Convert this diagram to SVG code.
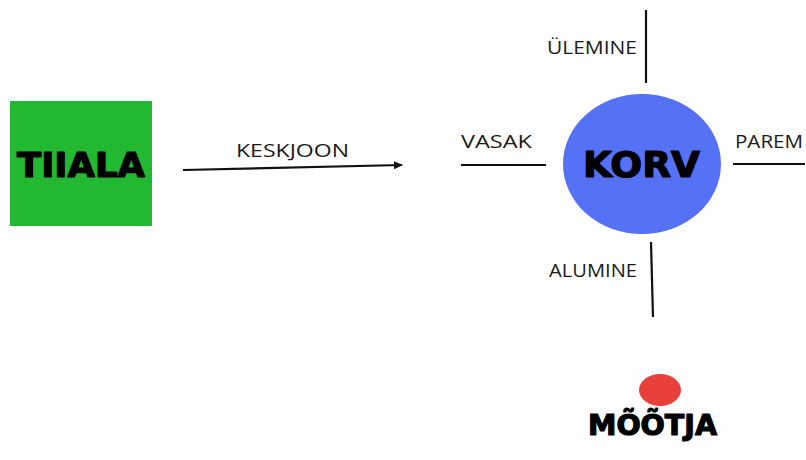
<svg xmlns="http://www.w3.org/2000/svg" width="806" height="460" viewBox="0 0 806 460">
<defs>
<style>
.lbl{font-family:"Open Sans","Liberation Sans",sans-serif;font-size:18px;fill:#1a1a1a}
.big{font-family:"DejaVu Sans","Liberation Sans",sans-serif;font-weight:bold;fill:#000;stroke:#000;stroke-width:1.2;stroke-linejoin:round}
.ln{stroke:#111;stroke-width:2.2;fill:none}
</style>
<marker id="ah" markerWidth="10" markerHeight="10" refX="8" refY="5" orient="auto" markerUnits="userSpaceOnUse">
<path d="M0,1 L9,5 L0,9 Z" fill="#111"/>
</marker>
</defs>
<rect width="806" height="460" fill="#fff"/>
<g id="tiiala">
<rect x="10" y="101" width="142" height="125" fill="#22b830"/>
<text class="big" x="17" y="177" font-size="33" textLength="128" lengthAdjust="spacingAndGlyphs">TIIALA</text>
</g>
<g id="korv">
<ellipse cx="642" cy="164" rx="79" ry="70" fill="#5572f7"/>
<text class="big" x="583" y="177" font-size="35" textLength="117" lengthAdjust="spacingAndGlyphs">KORV</text>
</g>
<g id="mootja">
<ellipse cx="660" cy="390" rx="21" ry="16" fill="#e8403a"/>
<text class="big" x="588" y="435" font-size="28" textLength="129" lengthAdjust="spacingAndGlyphs">MÕÕTJA</text>
</g>
<g id="connectors">
<line class="ln" x1="183" y1="170" x2="402" y2="165" marker-end="url(#ah)"/>
<line class="ln" x1="646" y1="10" x2="646" y2="83"/>
<line class="ln" x1="461" y1="165" x2="546" y2="165"/>
<line class="ln" x1="733" y1="164" x2="805" y2="164"/>
<line class="ln" x1="651" y1="242" x2="653" y2="317"/>
</g>
<g id="labels">
<text class="lbl" x="236" y="157" textLength="113" lengthAdjust="spacingAndGlyphs">KESKJOON</text>
<text class="lbl" x="547" y="54" textLength="90" lengthAdjust="spacingAndGlyphs">ÜLEMINE</text>
<text class="lbl" x="461" y="148" textLength="71" lengthAdjust="spacingAndGlyphs">VASAK</text>
<text class="lbl" x="735" y="148" textLength="68" lengthAdjust="spacingAndGlyphs">PAREM</text>
<text class="lbl" x="549" y="277" textLength="88" lengthAdjust="spacingAndGlyphs">ALUMINE</text>
</g>
</svg>
